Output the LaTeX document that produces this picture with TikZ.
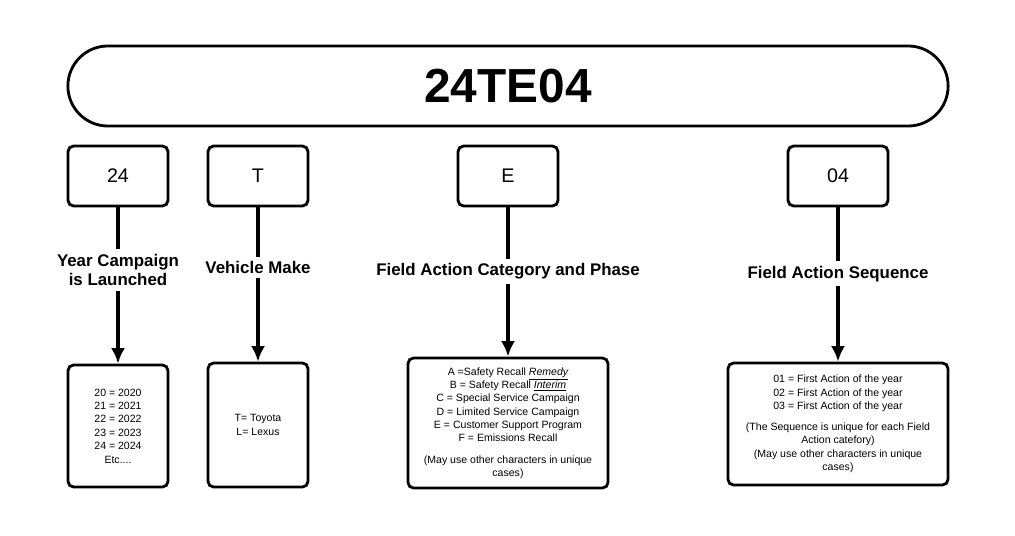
\documentclass[tikz,border=0pt]{standalone}
\usepackage{fontspec}
\setmainfont{Liberation Sans}
\usetikzlibrary{arrows.meta}

\begin{document}
\begin{tikzpicture}[x=0.025cm,y=-0.025cm,->,>={Latex[length=11pt,width=10pt]},line width=2.2pt,
    code box/.style={draw,rounded corners=4pt,line width=2pt,minimum width=2.5cm,minimum height=1.5cm,font=\fontsize{14}{16}\selectfont},
    list box/.style={draw,rounded corners=4pt,line width=2pt,align=center,font=\fontsize{7.5}{9.5}\selectfont},
    step label/.style={fill=white,align=center,font=\bfseries\fontsize{12}{14}\selectfont}]

  \useasboundingbox (0,0) rectangle (1015,535);

  \node[draw,line width=2pt,rounded corners=1cm,minimum width=22cm,minimum height=2cm,
        font=\bfseries\fontsize{34}{36}\selectfont] (code) at (508,86) {24TE04};

  \node[code box] (year) at (118,176) {24};
  \node[code box] (make) at (258,176) {T};
  \node[code box] (cat) at (508,176) {E};
  \node[code box] (seq) at (838,176) {04};

  \node[list box,minimum width=2.5cm,minimum height=3.05cm] (yearlist) at (118,426)
    {20 = 2020\\21 = 2021\\22 = 2022\\23 = 2023\\24 = 2024\\Etc....};
  \node[list box,minimum width=2.5cm,minimum height=3.1cm] (makelist) at (258,425)
    {T= Toyota\\L= Lexus};
  \node[list box,minimum width=5cm,minimum height=3.25cm] (catlist) at (508,423)
    {A =Safety Recall \textit{\underline{Remedy}}\\B = Safety Recall \textit{\underline{Interim}}\\
     C = Special Service Campaign\\D = Limited Service Campaign\\E = Customer Support Program\\
     F = Emissions Recall\\[1.4ex](May use other characters in unique\\cases)};
  \node[list box,minimum width=5.5cm,minimum height=3.05cm] (seqlist) at (838,424)
    {01 = First Action of the year\\02 = First Action of the year\\03 = First Action of the year\\[1.4ex]
     (The Sequence is unique for each Field\\Action catefory)\\(May use other characters in unique\\cases)};

  \draw (year) -- node[step label,pos=0.4] {Year Campaign\\is Launched} (yearlist);
  \draw (make) -- node[step label,pos=0.39] {Vehicle Make} (makelist);
  \draw (cat) -- node[step label,pos=0.43] {Field Action Category and Phase} (catlist);
  \draw (seq) -- node[step label,pos=0.43] {Field Action Sequence} (seqlist);

\end{tikzpicture}
\end{document}
